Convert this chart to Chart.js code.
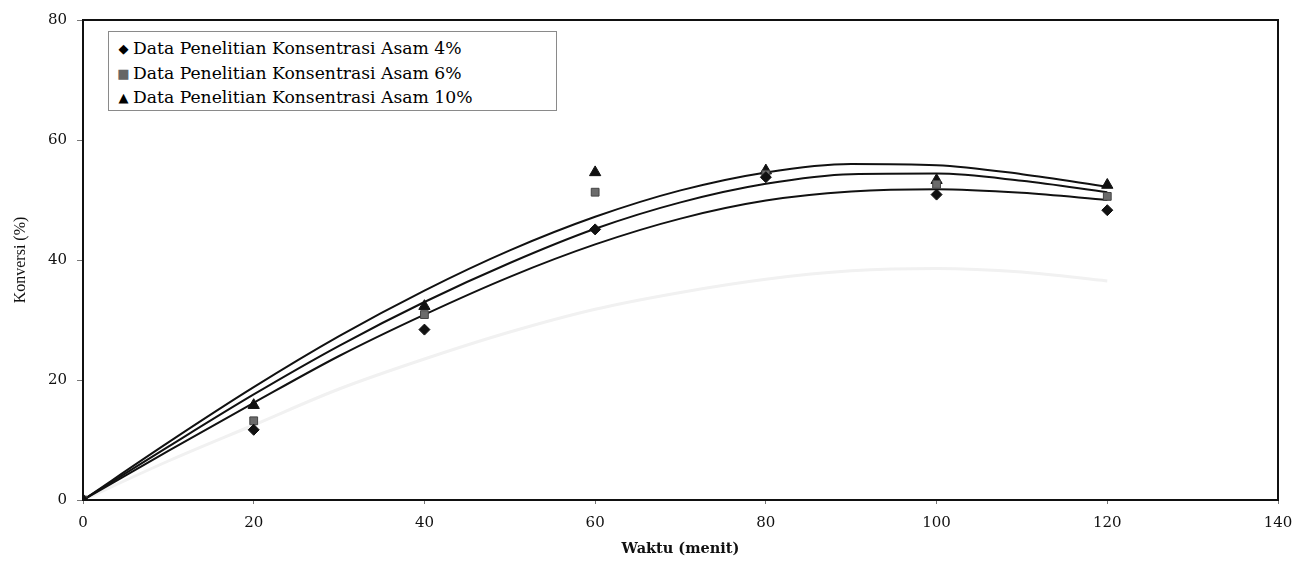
<!DOCTYPE html>
<html>
<head>
<meta charset="utf-8">
<script src="https://cdn.jsdelivr.net/npm/chart.js@4/dist/chart.umd.min.js"></script>
<style>
  body { margin: 0; background: #fff; }
  #wrap { position: relative; width: 1297px; height: 562px; }
  #legend {
    position: absolute; left: 108px; top: 31px; width: 449px; height: 80px;
    border: 1px solid #8a8a8a; background: #fff;
    font-family: "DejaVu Serif", serif; font-size: 17.2px; color: #000;
    box-sizing: border-box; padding: 4px 0 0 5px;
  }
  #legend div { height: 24.5px; line-height: 24.5px; white-space: nowrap; }
  #legend span.mk { display: inline-block; width: 19px; text-align: center; font-size: 13px; vertical-align: 1px; }
</style>
</head>
<body>
<div id="wrap">
  <canvas id="chart" width="1297" height="562"></canvas>
  <div id="legend"></div>
</div>
<script>
const waktu = [0, 20, 40, 60, 80, 100, 120];
const asam4 = [0, 11.7, 28.4, 45.1, 53.8, 50.9, 48.3];
const asam6 = [0, 13.2, 30.9, 51.3, 54.3, 52.6, 50.6];
const asam10 = [0, 15.8, 32.3, 54.6, 54.9, 53.3, 52.5];

// trend lines every 10 minutes
const trendX = [0, 10, 20, 30, 40, 50, 60, 70, 80, 90, 100, 110, 120];
const trend4 = [0, 8.2, 16.2, 24.0, 30.9, 37.2, 42.6, 46.9, 49.9, 51.4, 51.8, 51.2, 50.0];
const trend6 = [0, 8.9, 17.6, 25.7, 33.0, 39.5, 45.2, 49.6, 52.7, 54.3, 54.4, 53.2, 51.3];
const trend10 = [0, 9.6, 18.8, 27.3, 34.9, 41.6, 47.2, 51.6, 54.6, 56.0, 55.8, 54.3, 52.2];
// faint show-through curve from the scan
const faint = [0, 6.5, 12.5, 18.5, 23.5, 28.0, 31.8, 34.6, 36.8, 38.2, 38.6, 38.0, 36.5];

const xTicks = [0, 20, 40, 60, 80, 100, 120, 140];
const yTicks = [0, 20, 40, 60, 80];

const labels = [
  "Data Penelitian Konsentrasi Asam 4%",
  "Data Penelitian Konsentrasi Asam 6%",
  "Data Penelitian Konsentrasi Asam 10%"
];

const pts = (xs, ys) => xs.map((x, i) => ({ x, y: ys[i] }));

function trendLine(ys, color, width, order) {
  return {
    data: pts(trendX, ys),
    showLine: true,
    borderColor: color,
    borderWidth: width,
    pointRadius: 0,
    cubicInterpolationMode: 'monotone',
    order
  };
}

const frame = {
  id: 'frame',
  beforeDatasetsDraw(chart) {
    const { ctx, chartArea: a } = chart;
    ctx.save();
    ctx.strokeStyle = '#111';
    ctx.lineWidth = 2;
    ctx.strokeRect(a.left, a.top, a.right - a.left, a.bottom - a.top);
    ctx.restore();
  }
};

new Chart(document.getElementById('chart'), {
  type: 'scatter',
  data: {
    datasets: [
      { label: labels[0], data: pts(waktu, asam4), pointStyle: 'rectRot', pointRadius: 5.5,
        backgroundColor: '#111', borderColor: '#111', order: 0 },
      { label: labels[1], data: pts(waktu, asam6), pointStyle: 'rect', pointRadius: 5.5,
        backgroundColor: '#6b6b6b', borderColor: '#444', borderWidth: 1, order: 0 },
      { label: labels[2], data: pts(waktu, asam10), pointStyle: 'triangle', pointRadius: 6.5,
        backgroundColor: '#111', borderColor: '#111', order: 0 },
      trendLine(trend4, '#111', 2, 1),
      trendLine(trend6, '#111', 2, 1),
      trendLine(trend10, '#111', 2, 1),
      trendLine(faint, '#f1f1f1', 3, 2)
    ]
  },
  plugins: [frame],
  options: {
    responsive: false,
    animation: false,
    layout: { padding: { top: 20, right: 19, left: 0, bottom: 0 } },
    plugins: {
      legend: { display: false },
      tooltip: { enabled: false }
    },
    scales: {
      x: {
        type: 'linear',
        min: 0,
        max: 140,
        afterBuildTicks: s => { s.ticks = xTicks.map(v => ({ value: v })); },
        afterFit: s => { s.height = 62; s.paddingRight = 0; s.paddingLeft = 0; },
        grid: { drawOnChartArea: false, tickLength: 4, color: '#111', tickColor: '#777' },
        border: { color: '#111', width: 2 },
        ticks: {
          padding: 10,
          color: '#111',
          maxRotation: 0,
          font: { family: '"DejaVu Serif", serif', size: 15 }
        },
        title: {
          display: true,
          text: 'Waktu (menit)',
          color: '#111',
          padding: { top: 0, bottom: 4 },
          font: { family: '"DejaVu Serif", serif', size: 14.5, weight: 'bold' }
        }
      },
      y: {
        min: 0,
        max: 80,
        afterBuildTicks: s => { s.ticks = yTicks.map(v => ({ value: v })); },
        afterFit: s => { s.width = 83; },
        grid: { drawOnChartArea: false, tickLength: 6, tickColor: '#777' },
        border: { color: '#111', width: 2 },
        ticks: {
          padding: 10,
          color: '#111',
          font: { family: '"DejaVu Serif", serif', size: 15 }
        },
        title: {
          display: true,
          text: 'Konversi (%)',
          color: '#111',
          padding: { top: 11, bottom: 0 },
          font: { family: '"Liberation Serif", serif', size: 16 }
        }
      }
    }
  }
});

const marks = ['&#9670;', '<span style="color:#666">&#9632;</span>', '&#9650;'];
document.getElementById('legend').innerHTML = labels
  .map((t, i) => `<div><span class="mk">${marks[i]}</span>${t}</div>`)
  .join('');
</script>
</body>
</html>
